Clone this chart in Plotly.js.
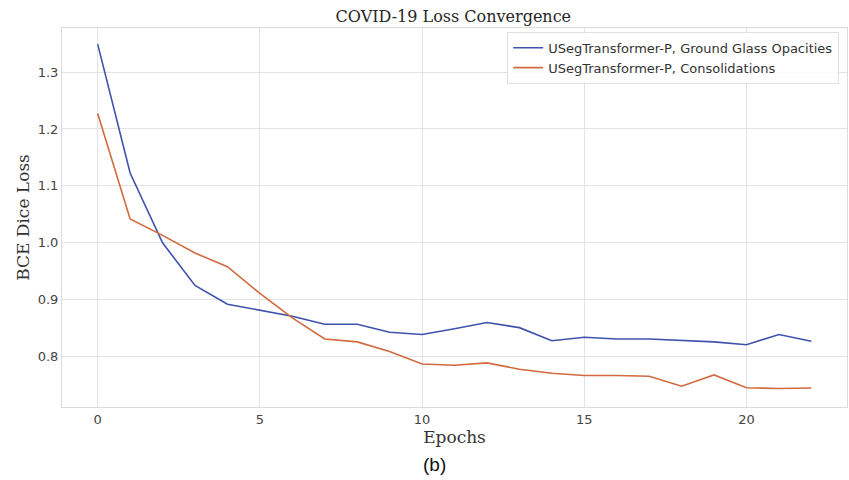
<!DOCTYPE html>
<html>
<head>
<meta charset="utf-8">
<script src="https://cdn.plot.ly/plotly-3.0.1.min.js"></script>
<style>html,body{margin:0;padding:0;background:#fff;}#chart{width:849px;height:480px;}</style>
</head>
<body>
<div id="chart"></div>
<script>
const epochs = [0,1,2,3,4,5,6,7,8,9,10,11,12,13,14,15,16,17,18,19,20,21,22];
const ggoLoss = [1.349,1.1225,1.000,0.925,0.892,0.882,0.871,0.857,0.857,0.843,0.839,0.849,0.860,0.851,0.828,0.834,0.831,0.831,0.829,0.826,0.821,0.839,0.827];
const consLoss = [1.227,1.042,1.013,0.982,0.958,0.911,0.868,0.831,0.826,0.809,0.787,0.785,0.789,0.778,0.771,0.767,0.767,0.7655,0.748,0.768,0.7455,0.744,0.745];
const seriesNames = ["USegTransformer-P, Ground Glass Opacities","USegTransformer-P, Consolidations"];
const xTicks = [0,5,10,15,20];
const yTicks = [0.8,0.9,1.0,1.1,1.2,1.3];

const traces = [
  {x: epochs, y: ggoLoss, name: seriesNames[0], mode: 'lines', line: {color: '#3f52ac', width: 1.6}},
  {x: epochs, y: consLoss, name: seriesNames[1], mode: 'lines', line: {color: '#d16a3f', width: 1.6}}
];

const layout = {
  width: 849, height: 480,
  margin: {l: 62, r: 2, t: 28, b: 73},
  paper_bgcolor: '#fff', plot_bgcolor: '#fff',
  title: {text: 'COVID-19 Loss Convergence', x: 0.534, xanchor: 'center', y: 0.966, yanchor: 'middle',
          font: {family: 'DejaVu Serif', size: 16, color: '#262626'}},
  xaxis: {
    range: [-1.1, 23.1], tickvals: xTicks, ticktext: xTicks.map(String),
    showgrid: true, gridcolor: '#e3e3e3', gridwidth: 1, zeroline: false,
    showline: true, linecolor: '#dcdcdc', mirror: true, ticks: '',
    tickfont: {family: 'DejaVu Sans', size: 13, color: '#444'},
    title: {text: 'Epochs', font: {family: 'DejaVu Serif', size: 17, color: '#333'}, standoff: 5}
  },
  yaxis: {
    range: [0.7116, 1.3773], tickvals: yTicks, ticktext: yTicks.map(v => v.toFixed(1)),
    showgrid: true, gridcolor: '#e3e3e3', gridwidth: 1, zeroline: false,
    showline: true, linecolor: '#dcdcdc', mirror: true, ticks: '',
    tickfont: {family: 'DejaVu Sans', size: 13, color: '#444'},
    title: {text: 'BCE Dice Loss', font: {family: 'DejaVu Serif', size: 17, color: '#333'}, standoff: 3}
  },
  legend: {x: 0.99, xanchor: 'right', y: 0.99, yanchor: 'top',
           bgcolor: 'rgba(255,255,255,0.85)', bordercolor: '#e0e0e0', borderwidth: 1,
           font: {family: 'DejaVu Sans', size: 13, color: '#333'}, tracegroupgap: 0},
  showlegend: true,
  annotations: [{text: '(b)', xref: 'paper', yref: 'paper', x: 0.475, y: -0.153, xanchor: 'center', yanchor: 'middle',
                 showarrow: false, font: {family: 'Liberation Sans', size: 19, color: '#111'}}]
};

Plotly.newPlot('chart', traces, layout, {displayModeBar: false, staticPlot: true});
</script>
</body>
</html>
